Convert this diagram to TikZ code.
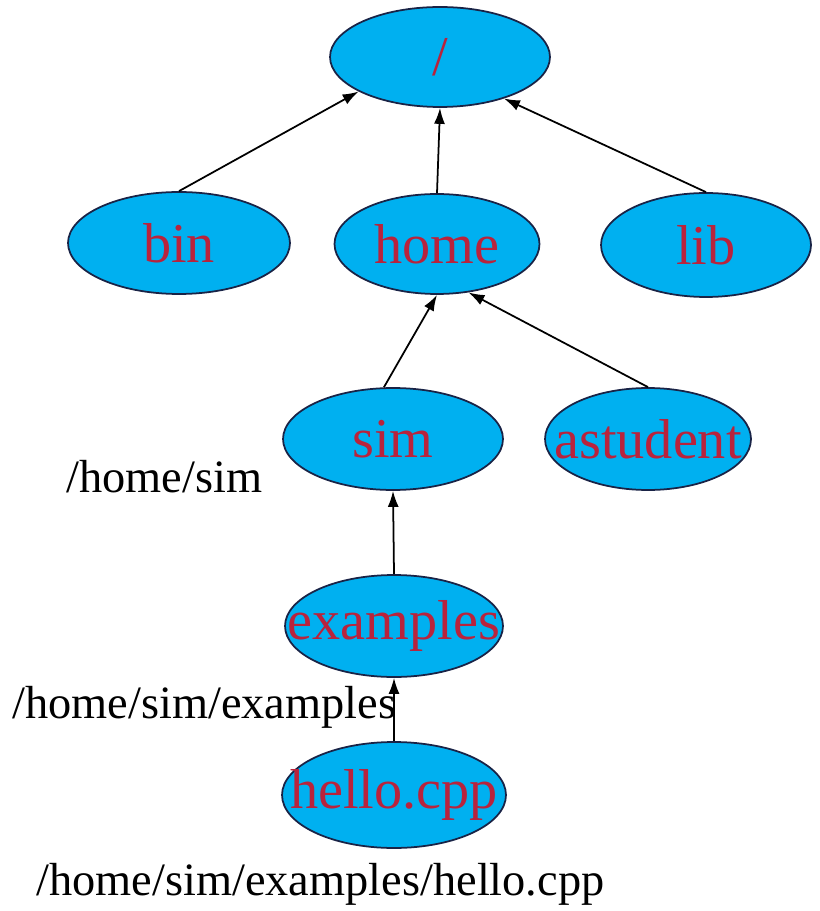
\documentclass[tikz,border=0pt]{standalone}
\usepackage{fontspec}
\setmainfont{Liberation Serif}
\usetikzlibrary{shapes.geometric,arrows.meta}
\definecolor{dirfill}{RGB}{0,176,240}
\definecolor{dirtext}{RGB}{185,35,60}
\definecolor{dirline}{RGB}{25,35,70}
\newcommand{\dirname}[1]{\makebox[0pt]{#1}}
\tikzset{folder/.style={ellipse,draw=dirline,line width=1pt,fill=dirfill,text=dirtext,inner sep=0pt,font=\fontsize{32}{32}\selectfont},
         pathlabel/.style={anchor=base west,inner sep=0pt,font=\fontsize{26.4}{26.4}\selectfont},
         link/.style={line width=1pt,-{Latex[length=0.32cm,width=0.22cm]}}}

\begin{document}
\begin{tikzpicture}[x=0.02cm,y=-0.02cm]
            \useasboundingbox (0,0) rectangle (819,911);
            \node (root)     [folder,minimum width=4.4cm,minimum height=2cm]     at (440,57)  {\dirname{/}};
            \node (bin)      [folder,minimum width=4.44cm,minimum height=2.04cm] at (179,243) {\dirname{bin}};
            \node (home)     [folder,minimum width=4.1cm,minimum height=2cm]     at (437,244) {\dirname{home}};
            \node (lib)      [folder,minimum width=4.2cm,minimum height=2.08cm]  at (706,245) {\dirname{lib}};
            \node (sim)      [folder,minimum width=4.4cm,minimum height=2.04cm]  at (393,439) {\dirname{sim}};
            \node (astudent) [folder,minimum width=4.12cm,minimum height=2.04cm] at (648,439) {\dirname{astudent}};
            \node (examples) [folder,minimum width=4.36cm,minimum height=2.04cm] at (394,626) {\dirname{examples}};
            \node (hello)    [folder,minimum width=4.48cm,minimum height=2.12cm] at (394,795) {\dirname{hello.cpp}};

            \draw[link] (bin.north)      -- (root.203);
            \draw[link] (home.north)     -- (root.south);
            \draw[link] (lib.north)      -- (root.327);
            \draw[link] (sim.100)        -- (home.south);
            \draw[link] (astudent.north) -- (home.303);
            \draw[link] (examples.north) -- (sim.south);
            \draw[link] (hello.north)    -- (examples.south);

            \node (simpath)   [pathlabel] at (66,492) {/home/sim};
            \node (expath)    [pathlabel] at (12,718) {/home/sim/examples};
            \node (hellopath) [pathlabel] at (36,895) {/home/sim/examples/hello.cpp};
        \end{tikzpicture}
\end{document}
